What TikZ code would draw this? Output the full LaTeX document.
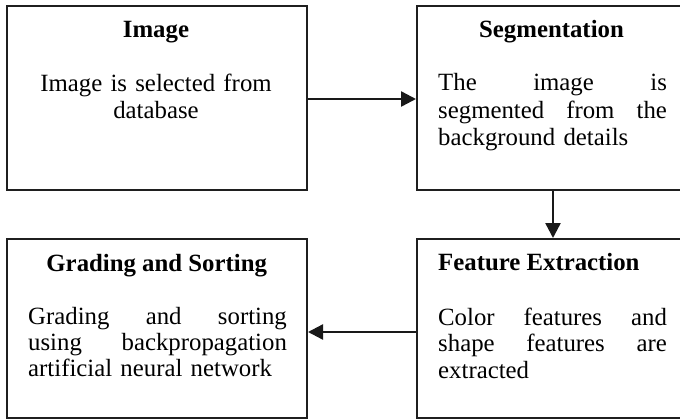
\documentclass[tikz,border=0pt]{standalone}
\usepackage{fontspec}
\setmainfont{Liberation Serif}
\usetikzlibrary{arrows.meta}
\begin{document}
\begin{tikzpicture}[x=1pt,y=-1pt,
  box/.style={draw=black!88, line width=2pt, inner sep=0pt, anchor=north west},
  heading/.style={inner sep=0pt, font=\fontsize{24.8}{27}\selectfont\bfseries},
  bodytext/.style={inner sep=0pt, align=left, anchor=base west,
    font=\fontsize{24.8}{#1}\selectfont},
  bodytext/.default=27,
  arr/.style={line width=2.4pt, draw=black!90, -{Triangle[length=15pt,width=15pt]}}]
  \useasboundingbox (0,0) rectangle (680,418);
  \clip (0,0) rectangle (680,418);

  % process boxes
  \node[box, minimum width=300pt, minimum height=184pt] (A) at (6,5) {};
  \node[box, minimum width=273pt, minimum height=184pt] (B) at (416,5) {};
  \node[box, minimum width=273pt, minimum height=179pt] (C) at (416,238) {};
  \node[box, minimum width=300pt, minimum height=179pt] (D) at (6,238) {};

  % box texts
  \node[heading, anchor=base] (tA) at (156,37.7) {Image};
  \node[bodytext, align=center, anchor=base, text width=280pt] (bA) at (156,91.7)
    {Image is selected from\\database};

  \node[heading, anchor=base] (tB) at (551.5,37.3) {Segmentation};
  \node[bodytext=27.5, text width=228.7pt] (bB) at (438,90.7)
    {The\hfill image\hfill is\\segmented\hfill from\hfill the\\background details};

  \node[heading, anchor=base west] (tC) at (438,270.7) {Feature Extraction};
  \node[bodytext=26.5, text width=228.7pt] (bC) at (438,325)
    {Color\hfill features\hfill and\\shape\hfill features\hfill are\\extracted};

  \node[heading, anchor=base] (tD) at (156.7,271.7) {Grading and Sorting};
  \node[bodytext=26, text width=258.7pt] (bD) at (28,324)
    {Grading\hfill and\hfill sorting\\using\hfill backpropagation\\artificial neural network};

  % flow arrows
  \draw[arr] (A.east |- 0,99) -- (B.west |- 0,99);
  \draw[arr] (B.south -| 553,0) -- (C.north -| 553,0);
  \draw[arr] (C.west |- 0,332) -- (D.east |- 0,332);
\end{tikzpicture}
\end{document}
